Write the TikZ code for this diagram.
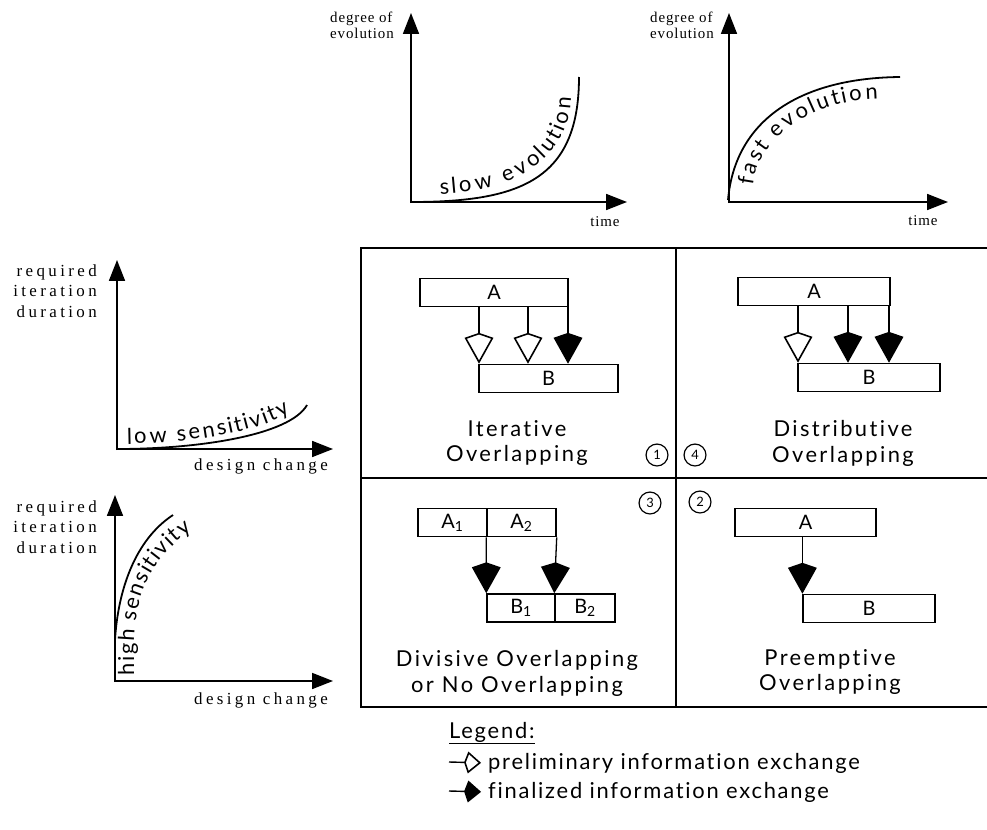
\documentclass[tikz,border=0pt]{standalone}
\usepackage{fontspec}
\usetikzlibrary{arrows.meta,decorations.text}
\setmainfont{Lato}[RawFeature={-liga,-dlig}]
\newfontfamily\qfont{Lato}[LetterSpace=11,RawFeature={-liga,-dlig}]
\newfontfamily\legfont{Lato}[LetterSpace=8,RawFeature={-liga,-dlig}]
\newfontfamily\cfont{Lato}[RawFeature={-liga,-dlig}]
\newfontfamily\axfont{Liberation Serif}[LetterSpace=6]
\newfontfamily\sidefont{Liberation Serif}[LetterSpace=20]
\newcommand\curvefont{\cfont\fontsize{22}{22}\selectfont}

\tikzset{
  axis/.style={line width=1.8pt, -{Triangle[length=21pt,width=16pt]}},
  curve/.style={line width=1.8pt},
  axlabel/.style={font=\axfont\fontsize{15}{16}\selectfont, inner sep=0pt},
  sidelabel/.style={font=\sidefont\fontsize{17}{20.5}\selectfont, inner sep=0pt},
  qlabel/.style={font=\qfont\fontsize{22}{26}\selectfont, align=center, inner sep=0pt},
  leglabel/.style={font=\legfont\fontsize{22}{26}\selectfont, inner sep=0pt},
  taskbox/.style={draw, line width=1.7pt, minimum height=28pt, inner sep=0pt,
                  font=\fontsize{20}{20}\selectfont},
  prelim/.style={line width=1.3pt, -{Kite[length=31pt,width=29pt,inset=5pt,fill=white,line width=1.6pt]}},
  final/.style={line width=1.3pt, -{Kite[length=31pt,width=29pt,inset=5pt,fill=black,line width=1.6pt]}},
  lprelim/.style={line width=1.4pt, shorten >=7pt, -{Kite[length=17pt,width=22pt,inset=4pt,fill=white,line width=1.6pt]}},
  lfinal/.style={line width=1.4pt, shorten >=7pt, -{Kite[length=17pt,width=22pt,inset=4pt,fill=black,line width=1.6pt]}},
  circnum/.style={circle, draw, line width=1.2pt, minimum size=22pt, inner sep=0pt,
                  font=\fontsize{13}{13}\selectfont},
  grid/.style={line width=2.2pt},
  spreadtext/.style={decorate, decoration={text effects along path, text={#1},
      text effects/.cd, text along path, fit text to path}}
}

\begin{document}
\begin{tikzpicture}[x=1bp,y=-1bp]
\useasboundingbox (0,0) rectangle (987,830);

% ---------- top graph: slow evolution ----------
\draw[axis] (411,203) -- (411,13);
\draw[axis] (410,202) -- (627,202);
\draw[curve] (411,202) .. controls (520,202) and (579,180) .. (579,77);
\begin{scope}[font=\curvefont]
  \path[spreadtext={slow evolution}] (440,194) .. controls (515,191) and (569,160) .. (571,97);
\end{scope}
\node[axlabel, anchor=west, align=left] (dv1) at (330,25) {degree of\\evolution};
\node[axlabel] (t1) at (605,222) {time};

% ---------- top graph: fast evolution ----------
\draw[axis] (729,203) -- (729,13);
\draw[axis] (728,202) -- (948,202);
\draw[curve] (728,200) .. controls (735,120) and (800,78) .. (900,77);
\begin{scope}[font=\curvefont]
  \path[spreadtext={fast evolution}] (753,186) .. controls (758,139) and (811,100) .. (878,99);
\end{scope}
\node[axlabel, anchor=west, align=left] (dv2) at (650,25) {degree of\\evolution};
\node[axlabel] (t2) at (923,221) {time};

% ---------- left graph: low sensitivity ----------
\draw[axis] (117,450) -- (117,260);
\draw[axis] (116,449) -- (333,449);
\draw[curve] (117,449) .. controls (200,449) and (290,435) .. (307,405);
\begin{scope}[font=\curvefont]
  \path[spreadtext={low sensitivity}] (127,444) .. controls (190,443) and (260,432) .. (290,412);
\end{scope}
\node[sidelabel, anchor=east, align=right] (r1) at (97,291) {required\\iteration\\duration};
\node[sidelabel] (dc1) at (261,466) {design change};

% ---------- left graph: high sensitivity ----------
\draw[axis] (115,682) -- (115,495);
\draw[axis] (114,681) -- (333,681);
\draw[curve] (115,681) -- (115,640) .. controls (118,590) and (135,540) .. (173,515);
\begin{scope}[font=\curvefont]
  \path[spreadtext={high sensitivity}] (134,675) -- (134,640) .. controls (136,595) and (150,560) .. (192,530);
\end{scope}
\node[sidelabel, anchor=east, align=right] (r2) at (97,527) {required\\iteration\\duration};
\node[sidelabel] (dc2) at (261,700) {design change};

% ---------- matrix frame ----------
\draw[grid] (995,248) -- (361,248) -- (361,707) -- (995,707);
\draw[grid] (676,248) -- (676,707);
\draw[grid] (361,478) -- (995,478);

% ---------- quadrant: iterative overlapping ----------
\node[taskbox, minimum width=148pt] (iA) at (494,292.5) {A};
\node[taskbox, minimum width=139pt] (iB) at (548.5,378.5) {B};
\coordinate (ix1) at (479,0);
\coordinate (ix2) at (528,0);
\coordinate (ix3) at (568,0);
\draw[prelim] (iA.south -| ix1) -- (iB.north -| ix1);
\draw[prelim] (iA.south -| ix2) -- (iB.north -| ix2);
\draw[final]  (iA.south -| ix3) -- (iB.north -| ix3);
\node[qlabel] (iL) at (517,443) {Iterative\\Overlapping};
\node[circnum] (n1) at (657,455) {1};

% ---------- quadrant: distributive overlapping ----------
\node[taskbox, minimum width=152pt] (dA) at (814,291.5) {A};
\node[taskbox, minimum width=142pt] (dB) at (869,377.5) {B};
\coordinate (dx1) at (798,0);
\coordinate (dx2) at (848,0);
\coordinate (dx3) at (889,0);
\draw[prelim] (dA.south -| dx1) -- (dB.north -| dx1);
\draw[final]  (dA.south -| dx2) -- (dB.north -| dx2);
\draw[final]  (dA.south -| dx3) -- (dB.north -| dx3);
\node[qlabel] (dL) at (843,443) {Distributive\\Overlapping};
\node[circnum] (n4) at (695,455) {4};

% ---------- quadrant: divisive / no overlapping ----------
\node[taskbox, minimum width=69pt] (vA1) at (452.5,522.5) {A\textsubscript{1}};
\node[taskbox, minimum width=69pt] (vA2) at (521.5,522.5) {A\textsubscript{2}};
\node[taskbox, minimum width=68pt] (vB1) at (521,608) {B\textsubscript{1}};
\node[taskbox, minimum width=60pt] (vB2) at (585,608) {B\textsubscript{2}};
\draw[final] (vA2.south west) -- (vB1.north west);
\draw[final] (vA2.south east) -- (vB2.north west);
\node[qlabel] (vL) at (517,673) {Divisive Overlapping\\or No Overlapping};
\node[circnum] (n3) at (650,503) {3};

% ---------- quadrant: preemptive overlapping ----------
\node[taskbox, minimum width=141pt] (pA) at (805.5,522.5) {A};
\node[taskbox, minimum width=132pt] (pB) at (869,608.5) {B};
\draw[final] (pA.south -| pB.west) -- (pB.north west);
\node[qlabel] (pL) at (830,672) {Preemptive\\Overlapping};
\node[circnum] (n2) at (700,502) {2};

% ---------- legend ----------
\node[leglabel, anchor=base west] (leg) at (449,738) {\underline{Legend:}};
\coordinate (lp0) at (449,762);
\node[leglabel, anchor=west] (lpt) at (488,763) {preliminary information exchange};
\draw[lprelim] (lp0) -- (lpt.west);
\coordinate (lf0) at (449,791);
\node[leglabel, anchor=west] (lft) at (488,792) {finalized information exchange};
\draw[lfinal] (lf0) -- (lft.west);
\end{tikzpicture}
\end{document}
